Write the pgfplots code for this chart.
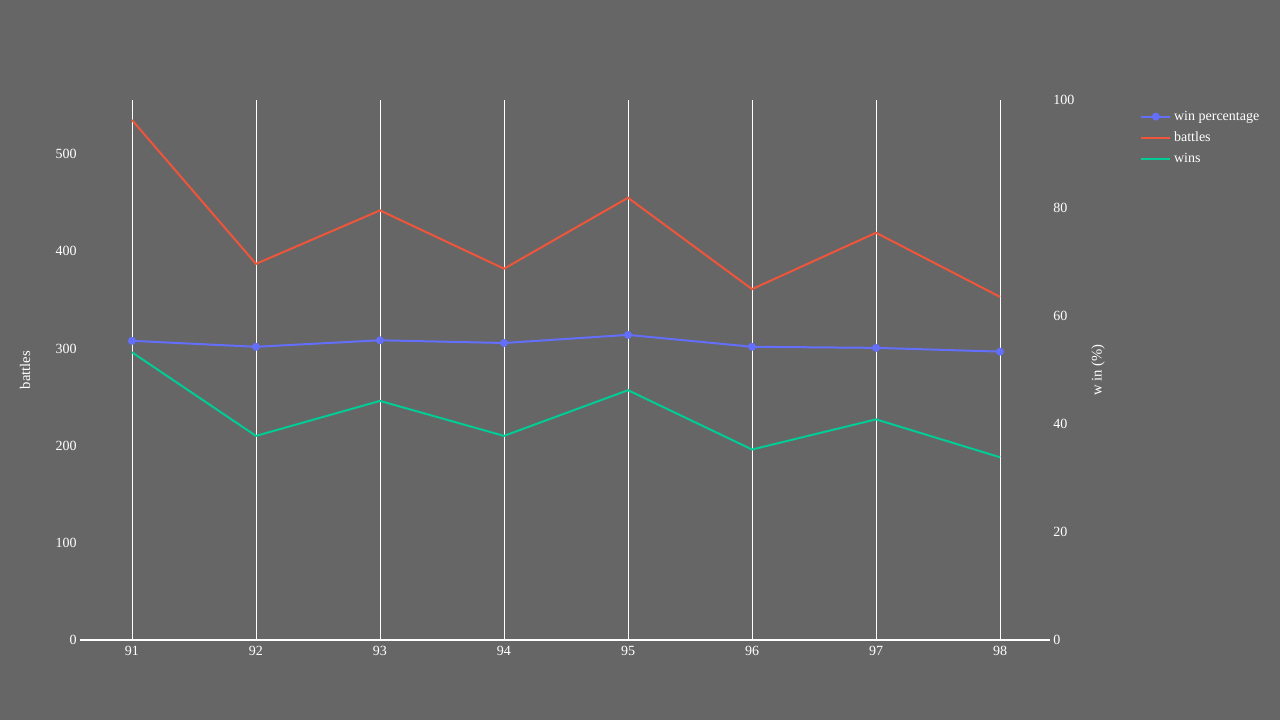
\documentclass[border=0pt]{standalone}
\usepackage{pgfplots}
\pgfplotsset{compat=1.18}
\usepackage{fontspec}
\setmainfont{Liberation Serif}
\definecolor{bg}{HTML}{666666}
\definecolor{pctblue}{HTML}{636EFA}
\definecolor{battlered}{HTML}{EF553B}
\definecolor{wingreen}{HTML}{00CC96}

\pgfplotstableread{
year battles wins pct
91 535 296 55.4
92 387 210 54.3
93 442 246 55.5
94 382 210 55.0
95 455 257 56.5
96 361 196 54.3
97 419 227 54.1
98 353 188 53.4
}\datatable

\pgfplotsset{
  common/.style={
    scale only axis,
    width=727.5pt, height=405pt,
    at={(0pt,0pt)}, anchor=south west,
    xmin=90.581, xmax=98.403,
    xtick={91,...,98},
    major tick length=0pt,
    tick label style={font=\fontsize{10.5}{12}\selectfont, text=white},
    /pgf/number format/assume math mode=true,
    clip=false,
  },
}

\begin{document}
\begin{tikzpicture}
\fill[bg] (-60pt,-60pt) rectangle (900pt,480pt);
\useasboundingbox (-60pt,-60pt) rectangle (900pt,480pt);

\begin{axis}[common,
  axis x line*=bottom,
  axis y line*=left,
  x axis line style={white, line width=1.5pt, -},
  y axis line style={draw=none},
  ymin=0, ymax=555.6,
  ytick={0,100,...,500},
  yticklabel style={xshift=1pt},
  xticklabel style={yshift=-1pt},
  xmajorgrids,
  grid style={white, line width=0.6pt},
  ylabel={battles},
  every axis y label/.style={at={(rel axis cs:-0.0567,0.5)}, rotate=90, anchor=center,
    text=white, font=\fontsize{11}{13}\selectfont},
]
\addplot[battlered, line width=1.5pt, mark=none] table[x=year, y=battles] {\datatable};
\addplot[wingreen, line width=1.5pt, mark=none] table[x=year, y=wins] {\datatable};
\end{axis}

\begin{axis}[common,
  axis x line=none,
  axis y line*=right,
  y axis line style={draw=none},
  ymin=0, ymax=100,
  ytick={0,20,...,100},
  yticklabel style={anchor=west, xshift=-1pt},
  ylabel={w in (\%)},
  every axis y label/.style={at={(rel axis cs:1.0495,0.5)}, rotate=90, anchor=center,
    text=white, font=\fontsize{11}{13}\selectfont},
  legend style={at={(rel axis cs:1.0885,0.99)}, anchor=north west,
    draw=none, fill=none, text=white,
    font=\fontsize{10.5}{12}\selectfont,
    row sep=3.2pt,
    /tikz/every even column/.append style={column sep=2pt}},
  legend cell align=left,
  legend image code/.code={\draw[mark repeat=2, mark phase=2, #1]
    plot coordinates {(0pt,0pt) (11pt,0pt) (22pt,0pt)};},
]
\addplot[pctblue, line width=1.5pt, mark=*, mark size=2.2pt, mark options={fill=pctblue, draw=pctblue}]
  table[x=year, y=pct] {\datatable};
\addlegendentry{win percentage}
\addlegendimage{battlered, line width=1.5pt}
\addlegendentry{battles}
\addlegendimage{wingreen, line width=1.5pt}
\addlegendentry{wins}
\end{axis}
\end{tikzpicture}
\end{document}
